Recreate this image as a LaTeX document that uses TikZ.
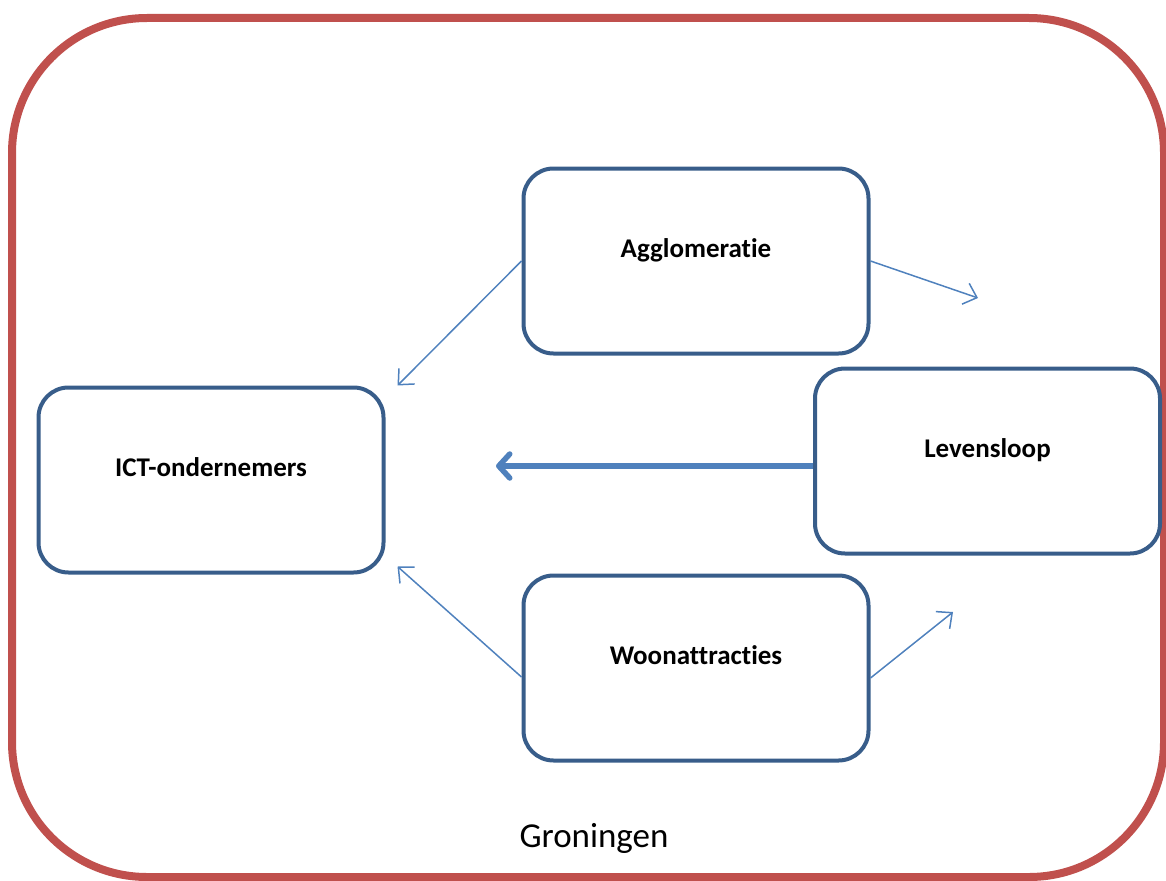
\documentclass[tikz,border=0pt]{standalone}
\usepackage{fontspec}
\setmainfont{Carlito}[Ligatures=NoCommon]
\usetikzlibrary{arrows.meta}
\definecolor{boxblue}{HTML}{385D8A}
\definecolor{arrowblue}{HTML}{4F81BD}
\definecolor{cityred}{HTML}{C0504D}
\tikzset{
  factor/.style={draw=boxblue, fill=white, line width=4pt, rounded corners=30pt,
    minimum width=345pt, minimum height=185pt, inner sep=0pt,
    font=\fontsize{27}{32}\selectfont\bfseries},
  thin/.style={draw=arrowblue, line width=1.5pt,
    -{Straight Barb[length=12pt, width=22pt, line width=1.5pt]}},
  thick/.style={draw=arrowblue, line width=5.5pt,
    -{Straight Barb[length=11pt, width=24pt, line width=5.5pt, round]}}
}
\begin{document}
\begin{tikzpicture}[x=1pt, y=-1pt]
  \useasboundingbox (0,0) rectangle (1166,880);
  \draw[cityred, line width=8pt, rounded corners=135pt] (12,18) rectangle (1164,877);
  \node (city) at (594,838) {\fontsize{35}{42}\selectfont Groningen};

  \node[factor] (ict) at (211,480) {\raisebox{26pt}{ICT-ondernemers}};
  \node[factor] (aggl) at (696,261) {\raisebox{26pt}{Agglomeratie}};
  \node[factor] (leven) at (987.5,461) {\raisebox{26pt}{Levensloop}};
  \node[factor] (woon) at (696,668) {\raisebox{26pt}{Woonattracties}};

  \coordinate (aggl-out) at (978,298);
  \coordinate (woon-out) at (953,612);
  \coordinate (ict-in) at (496,466);

  \begin{scope}
    \draw[thin] (aggl.west) to ([xshift=12pt]ict.north east);
    \draw[thin] (aggl.east) to (aggl-out);
    \draw[thick] ([yshift=-5pt]leven.west) to (ict-in);
    \draw[thin] ([yshift=-9pt]woon.west) to ([xshift=12pt,yshift=8pt]ict.south east);
    \draw[thin] ([yshift=-10pt]woon.east) to (woon-out);
  \end{scope}
\end{tikzpicture}
\end{document}
